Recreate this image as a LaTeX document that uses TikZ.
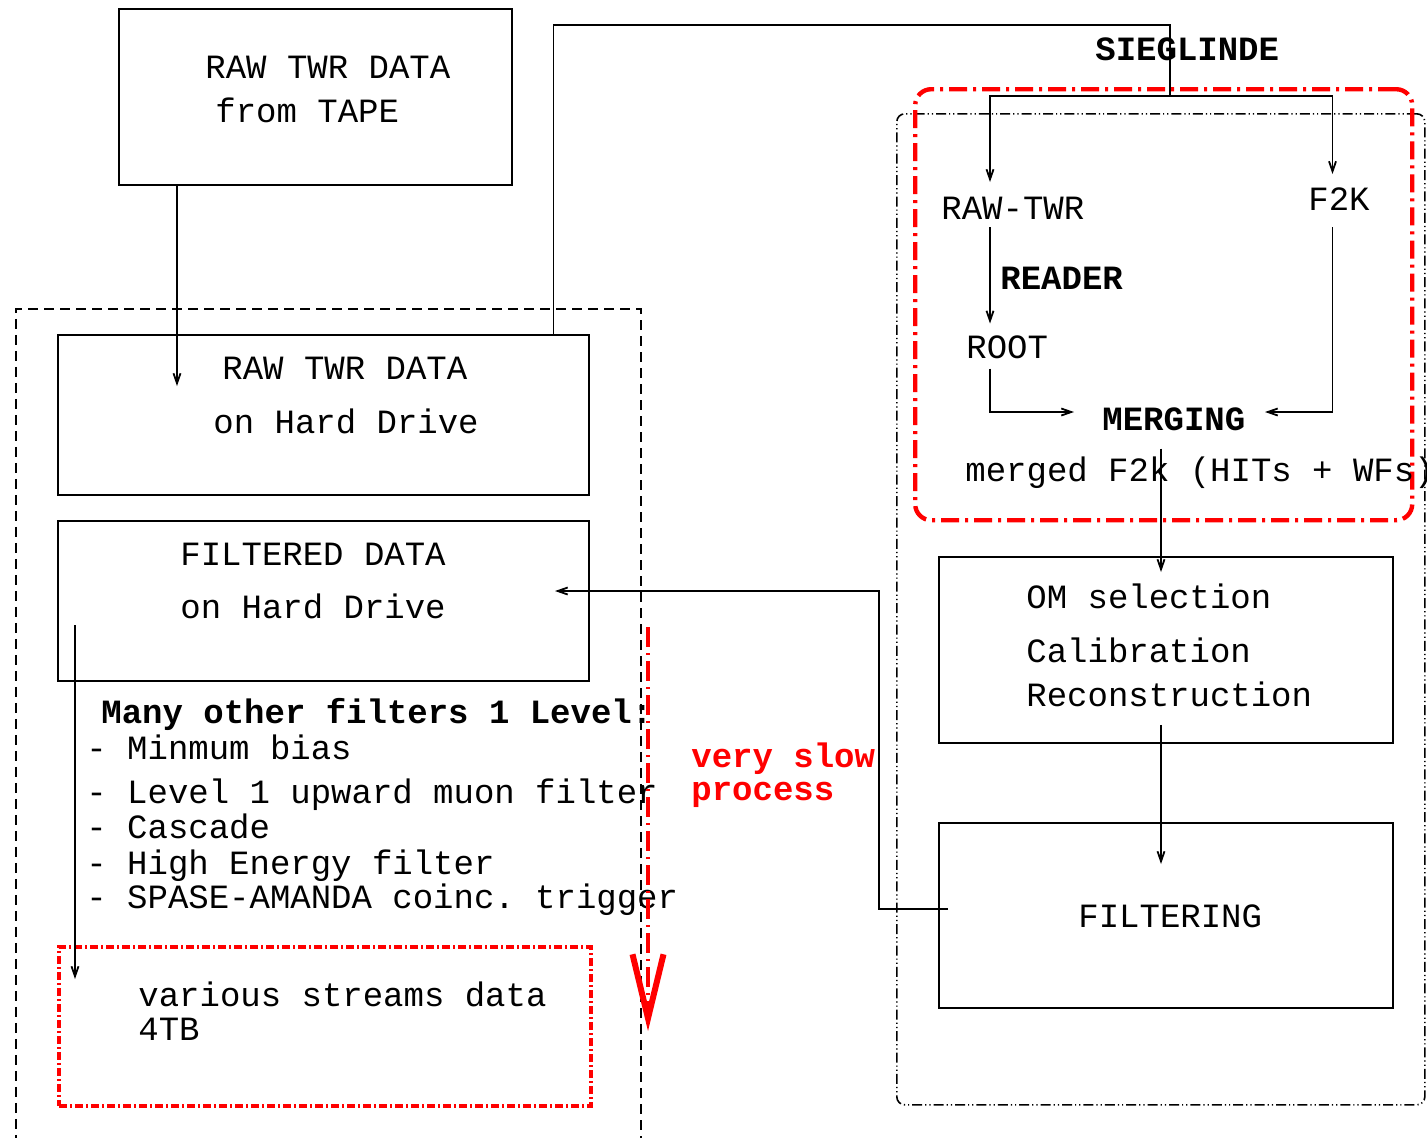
\documentclass[tikz,border=0pt]{standalone}
\usepackage{fontspec}
\setmonofont{Liberation Mono}
\usetikzlibrary{arrows.meta,calc}
\tikzset{
  box/.style={draw, line width=0.9pt, inner sep=0pt, anchor=north west},
  txt/.style={anchor=base west, inner sep=0pt, font=\ttfamily\fontsize{17}{20}\selectfont},
  btxt/.style={txt, font=\ttfamily\bfseries\fontsize{17}{20}\selectfont},
  conn/.style={line width=0.9pt},
  arr/.style={conn, -{Straight Barb[length=5pt,width=3.5pt]}},
  redframe/.style={draw=red, line width=2.2pt, dash pattern=on 9pt off 3pt on 1.5pt off 3pt},
  redthin/.style={draw=red, line width=2pt, dash pattern=on 4pt off 1.5pt on 1pt off 1.5pt},
  dashframe/.style={draw, line width=0.8pt, dash pattern=on 5pt off 3pt},
  dotframe/.style={draw, line width=0.8pt, dash pattern=on 5pt off 1.5pt on 0.6pt off 1.5pt on 0.6pt off 1.5pt},
}
\begin{document}
\begin{tikzpicture}[x=0.5pt,y=-0.5pt]
\useasboundingbox (0,0) rectangle (1427,1137);
\clip (0,0) rectangle (1427,1137);

\node[box, dashframe, minimum width=312.5pt, minimum height=450pt] (hdframe) at (15,308) {};
\node[box, dotframe, rounded corners=4pt, minimum width=264pt, minimum height=495.5pt] (sframe) at (896,113) {};
\node[box, redframe, rounded corners=8pt, minimum width=248.5pt, minimum height=215.5pt] (sieggroup) at (913,87) {};

\node[box, minimum width=196.5pt, minimum height=88pt] (tape) at (118,8) {};
\node[box, minimum width=265.5pt, minimum height=80pt] (hd) at (57,334) {};
\node[box, minimum width=265.5pt, minimum height=80pt] (filt) at (57,520) {};
\node[box, minimum width=227pt, minimum height=93pt] (om) at (938,556) {};
\node[box, minimum width=227pt, minimum height=92.5pt] (fltbox) at (938,822) {};
\node[box, redthin, minimum width=266pt, minimum height=79.5pt] (streams) at (57,945) {};

\node[txt] (tapeA) at (205,78) {RAW TWR DATA};
\node[txt] (tapeB) at (215,122) {from TAPE};
\node[txt] (hdA) at (222,379) {RAW TWR DATA};
\node[txt] (hdB) at (213,433) {on Hard Drive};
\node[txt] (filtA) at (180,565) {FILTERED DATA};
\node[txt] (filtB) at (180,618) {on Hard Drive};
\node[btxt] (many) at (101,723) {Many other filters 1 Level:};
\node[txt] (minbias) at (86,759) {- Minmum bias};
\node[txt] (lev1) at (86,803) {- Level 1 upward muon filter};
\node[txt] (cascade) at (86,838) {- Cascade};
\node[txt] (highe) at (86,874) {- High Energy filter};
\node[txt] (spase) at (86,908) {- SPASE-AMANDA coinc. trigger};
\node[txt] (streamsA) at (138,1006) {various streams data};
\node[txt] (streamsB) at (138,1040) {4TB};
\node[btxt, text=red] (slowA) at (691,767) {very slow};
\node[btxt, text=red] (slowB) at (691,800) {process};

\node[btxt] (sieg) at (1095,60) {SIEGLINDE};
\node[txt] (rawtwr) at (941,219) {RAW-TWR};
\node[txt] (f2k) at (1308,210) {F2K};
\node[btxt] (reader) at (1000,289) {READER};
\node[txt] (root) at (966,358) {ROOT};
\node[btxt] (merging) at (1102,430) {MERGING};
\node[txt] (merged) at (965,481) {merged F2k (HITs + WFs)};
\node[txt] (omsel) at (1026,608) {OM selection};
\node[txt] (calib) at (1026,662) {Calibration};
\node[txt] (recon) at (1026,706) {Reconstruction};
\node[txt] (filtering) at (1078,927) {FILTERING};

\coordinate (hdin) at (177,386);
\coordinate (hdup) at (553.5,25);
\coordinate (split) at (1170,96);
\coordinate (rawin) at (990,182);
\coordinate (f2kin) at (1332.5,174);
\coordinate (rootin) at (990,323.5);
\coordinate (mergeL) at (1074,412);
\coordinate (mergeR) at (1265,412);
\coordinate (omin) at (1161,572);
\coordinate (fltin) at (1161,864);
\coordinate (fltout) at (948,909);
\coordinate (turn) at (879,591);
\coordinate (filtin) at (555,591);
\coordinate (filtout) at (75,625);
\coordinate (streamsin) at (75,979);
\coordinate (slowtop) at (648,627);
\coordinate (slowend) at (648,1031);

\draw[arr] (tape.south -| hdin) -- (hdin);
\draw[conn] (hd.north -| hdup) -- (hdup) -| (split);
\draw[arr] (split) -| (rawin);
\draw[arr] (split) -| (f2kin);
\draw[arr] ($(rootin |- rawtwr.south)+(0,8)$) -- (rootin);
\draw[arr] ($(rootin |- root.south)+(0,10)$) |- (mergeL);
\draw[arr] ($(f2kin |- f2k.south)+(0,17)$) |- (mergeR);
\draw[arr] ($(omin |- merging.south)+(0,18)$) -- (omin);
\draw[arr] ($(fltin |- recon.south)+(0,18)$) -- (fltin);
\draw[arr] (fltout) -| (turn) -- (filtin);
\draw[arr] (filtout) -- (streamsin);
\draw[red, line width=2pt, dash pattern=on 10pt off 3pt on 1pt off 3pt,
  -{Straight Barb[length=32pt,width=15.5pt,line width=3pt]}] (slowtop) -- (slowend);
\end{tikzpicture}
\end{document}
